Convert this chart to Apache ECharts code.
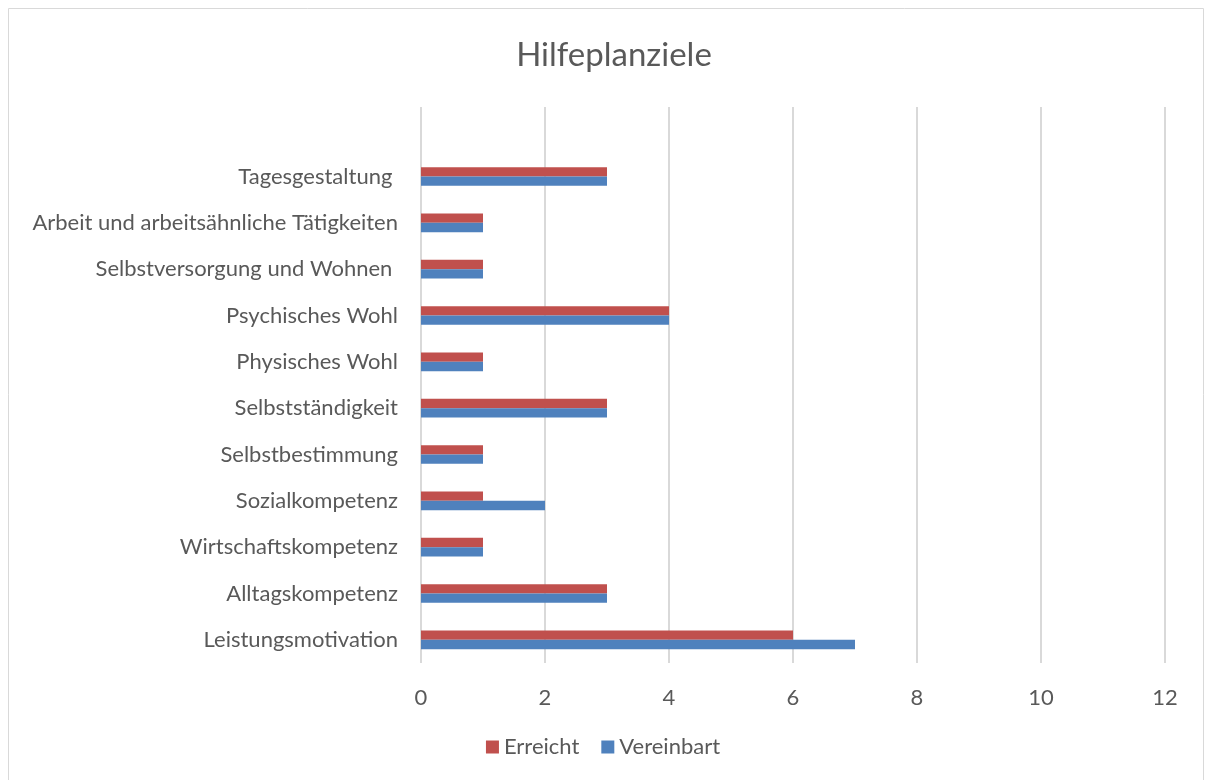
<!DOCTYPE html>
<html>
<head>
<meta charset="utf-8">
<title>Hilfeplanziele</title>
<script src="https://cdn.jsdelivr.net/npm/echarts@6/dist/echarts.min.js"></script>
<style>
  html, body { margin: 0; padding: 0; background: #fff; }
  #chart { width: 1206px; height: 780px; }
</style>
</head>
<body>
<div id="chart"></div>
<script>
// Daten (von unten nach oben, wie in der Achse)
const categories = [
  "Leistungsmotivation",
  "Alltagskompetenz",
  "Wirtschaftskompetenz",
  "Sozialkompetenz",
  "Selbstbestimmung",
  "Selbstständigkeit",
  "Physisches Wohl",
  "Psychisches Wohl",
  "Selbstversorgung und Wohnen ",
  "Arbeit und arbeitsähnliche Tätigkeiten",
  "Tagesgestaltung "
];
const erreicht   = [6, 3, 1, 1, 1, 3, 1, 4, 1, 1, 3];
const vereinbart = [7, 3, 1, 2, 1, 3, 1, 4, 1, 1, 3];
const xTicks = [0, 2, 4, 6, 8, 10, 12];

const textColor = "#595959";
const font = "Lato";

let myChart = echarts.init(document.getElementById("chart"));
myChart.setOption({
  animation: false,
  textStyle: { fontFamily: font },
  title: {
    text: "Hilfeplanziele",
    left: 609,
    top: 34,
    textAlign: "center",
    textStyle: {
      fontSize: 33,
      fontWeight: "normal",
      color: textColor,
      fontFamily: font
    }
  },
  color: ["#C0504D", "#4F81BD"],
  legend: {
    data: ["Erreicht", "Vereinbart"],
    bottom: 17,
    left: "center",
    itemWidth: 13,
    itemHeight: 13,
    itemGap: 22,
    icon: "rect",
    textStyle: { fontSize: 22, color: textColor, fontFamily: font }
  },
  grid: {
    left: 421,
    right: 41,
    top: 107,
    bottom: 117,
    containLabel: false
  },
  xAxis: {
    type: "value",
    min: xTicks[0],
    max: xTicks[xTicks.length - 1],
    interval: 2,
    axisLine: { show: false },
    axisTick: { show: false },
    splitLine: { show: true, lineStyle: { color: "#D9D9D9", width: 2 } },
    axisLabel: { fontSize: 22, color: textColor, margin: 24, fontFamily: font }
  },
  yAxis: {
    type: "category",
    data: categories,
    max: categories.length,
    axisLine: { show: false },
    axisTick: { show: false },
    axisLabel: { fontSize: 22, color: textColor, margin: 23, fontFamily: font }
  },
  series: [
    {
      name: "Erreicht",
      type: "bar",
      data: erreicht,
      barWidth: 9.3,
      barGap: "0%"
    },
    {
      name: "Vereinbart",
      type: "bar",
      data: vereinbart,
      barWidth: 9.3,
      barGap: "0%"
    }
  ],
  graphic: [
    {
      type: "rect",
      shape: { x: 8.5, y: 8.5, width: 1195, height: 780 },
      style: { fill: "none", stroke: "#D9D9D9", lineWidth: 1 },
      silent: true
    }
  ]
});
</script>
</body>
</html>
